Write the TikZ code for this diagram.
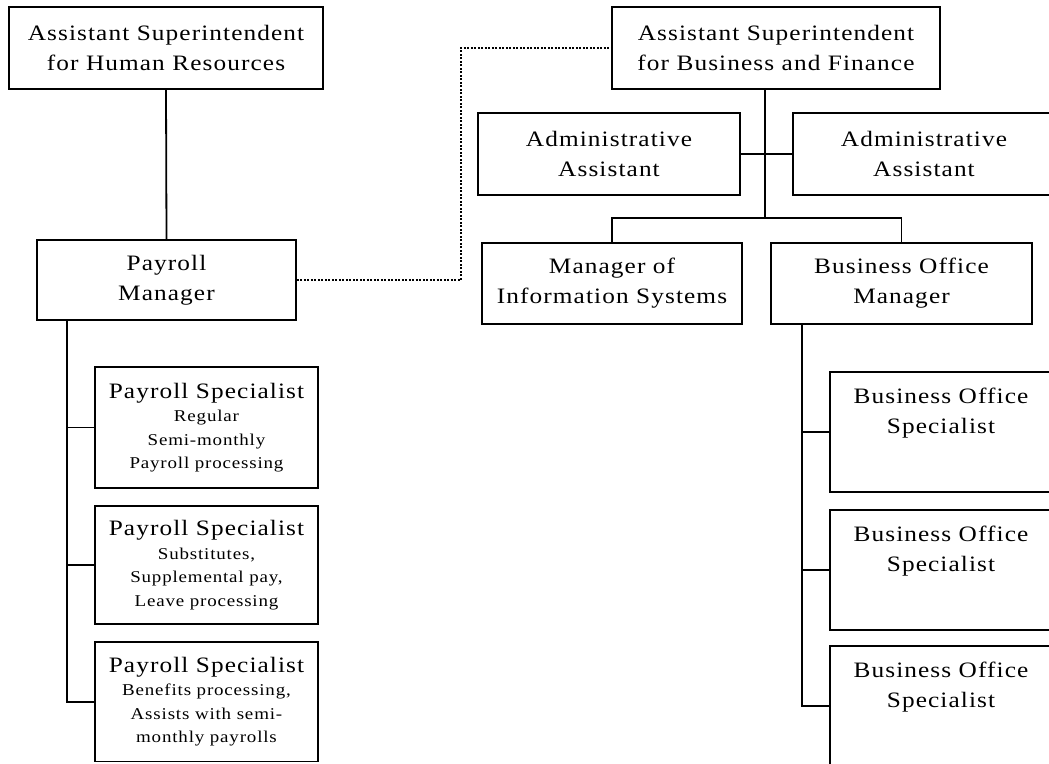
\documentclass[tikz,border=0pt]{standalone}
\usepackage{fontspec}
\usetikzlibrary{calc}
\setmainfont{Liberation Serif}[FakeStretch=1.15,LetterSpace=5]
\newcommand\bigtext{\fontsize{22}{30}\selectfont}
\newcommand\smalltext{\fontsize{16.5}{23.5}\selectfont}
% payroll specialist: title line plus a smaller duty description
\newcommand\specbox[1]{\parbox{223pt}{\centering Payroll Specialist\par\smalltext #1\par}}
% business office specialist: text sits at the top of a tall box
\newcommand\bosbox{\begin{minipage}[c][120pt][t]{222pt}\centering\rule{0pt}{31pt}Business Office\\Specialist\end{minipage}}
\tikzset{
  orgbox/.style={draw, line width=1.8pt, inner sep=0pt, align=center, font=\bigtext},
  link/.style={line width=1.8pt},
  dotlink/.style={line width=1.3pt, dash pattern=on 2pt off 1.5pt},
}
\begin{document}
\begin{tikzpicture}[x=1pt,y=-1pt]
\useasboundingbox (0,0) rectangle (1049,763);
\clip (0,0) rectangle (1049,763);
\fill[white] (0,0) rectangle (1049,763);

% human resources branch
\node[orgbox, minimum width=314pt, minimum height=82pt] (hr) at (166,48)
  {Assistant Superintendent\\for Human Resources};
\node[orgbox, minimum width=259pt, minimum height=80pt] (pm) at (166.5,280)
  {Payroll\\Manager};
\node[orgbox, minimum width=223pt, minimum height=121pt] (ps1) at (206.5,427.5)
  {\specbox{Regular\\Semi-monthly\\Payroll processing}};
\node[orgbox, minimum width=223pt, minimum height=118pt] (ps2) at (206.5,565)
  {\specbox{Substitutes,\\Supplemental pay,\\Leave processing}};
\node[orgbox, minimum width=223pt, minimum height=119.5pt] (ps3) at (206.5,701.75)
  {\specbox{Benefits processing,\\Assists with semi-\\monthly payrolls}};

% business and finance branch
\node[orgbox, minimum width=328pt, minimum height=82pt] (bf) at (776,48)
  {Assistant Superintendent\\for Business and Finance};
\node[orgbox, minimum width=262pt, minimum height=82pt] (aa1) at (609,154)
  {Administrative\\Assistant};
\node[orgbox, minimum width=262pt, minimum height=82pt] (aa2) at (924,154)
  {Administrative\\Assistant};
\node[orgbox, minimum width=260pt, minimum height=81pt] (mis) at (612,283.5)
  {Manager of\\Information Systems};
\node[orgbox, minimum width=261pt, minimum height=81pt] (bom) at (901.5,283.5)
  {Business Office\\Manager};
\node[orgbox, minimum width=222pt, minimum height=120pt] (bos1) at (941,432) {\bosbox};
\node[orgbox, minimum width=222pt, minimum height=120pt] (bos2) at (941,570) {\bosbox};
\node[orgbox, minimum width=222pt, minimum height=120pt] (bos3) at (941,706) {\bosbox};

% junction points
\coordinate (bftap) at ($(bf.south west)+(154,0)$);
\coordinate (split) at (bftap |- 0,218);
\coordinate (pmtap) at ($(pm.south west)+(31,0)$);
\coordinate (bomtap) at ($(bom.south west)+(32,0)$);

% connectors
\draw[link] (hr.south) -- (pm.north);
\draw[link] (bftap) -- (split);
\draw[link] (aa1.east) -- (aa2.west);
\draw[link] (mis.north) |- (split) -| (bom.north);
\draw[link] (pmtap) |- (ps3.west);
\draw[link] (ps1.west) -- (ps1.west -| pmtap);
\draw[link] (ps2.west) -- (ps2.west -| pmtap);
\draw[link] (bomtap) |- (bos3.west);
\draw[link] (bos1.west) -- (bos1.west -| bomtap);
\draw[link] (bos2.west) -- (bos2.west -| bomtap);
\draw[dotlink] (pm.east) -- ++(164,0) |- (bf.west);
\end{tikzpicture}
\end{document}
